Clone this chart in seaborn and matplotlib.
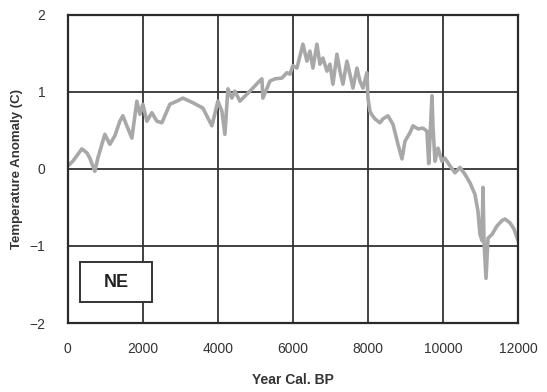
import matplotlib
matplotlib.use('Agg')
import matplotlib.pyplot as plt
from matplotlib.patches import Rectangle
import pandas as pd
import seaborn as sns

# NE bölgesi sıcaklık anomalisi
years = [0, 133, 373, 507, 587, 720, 800, 987, 1120, 1253, 1387, 1467, 1573, 1707,
         1840, 1920, 2000, 2107, 2240, 2373, 2507, 2720, 2907, 3067, 3333, 3600,
         3840, 4000, 4107, 4187, 4267, 4373, 4453, 4587, 4773, 4933, 5067, 5173,
         5200, 5387, 5520, 5707, 5840, 5920, 6000, 6107, 6267, 6373, 6453, 6533,
         6640, 6720, 6800, 6907, 6987, 7067, 7173, 7253, 7333, 7440, 7520, 7600,
         7707, 7787, 7867, 7973, 8000, 8053, 8107, 8187, 8320, 8400, 8533, 8667,
         8800, 8907, 8987, 9120, 9200, 9333, 9467, 9573, 9620, 9707, 9733, 9787,
         9867, 9973, 10053, 10187, 10320, 10453, 10587, 10720, 10853, 10933,
         10987, 11040, 11067, 11093, 11147, 11200, 11307, 11440, 11573, 11653,
         11787, 11893, 12000]
anomaly = [0.04, 0.10, 0.26, 0.21, 0.14, -0.03, 0.14, 0.45, 0.32, 0.43, 0.62, 0.69,
           0.56, 0.40, 0.88, 0.71, 0.84, 0.62, 0.73, 0.62, 0.60, 0.84, 0.88, 0.92,
           0.86, 0.79, 0.56, 0.88, 0.75, 0.45, 1.04, 0.92, 1.01, 0.88, 0.97, 1.05,
           1.12, 1.17, 0.92, 1.14, 1.17, 1.18, 1.25, 1.23, 1.34, 1.31, 1.62, 1.40,
           1.53, 1.31, 1.62, 1.36, 1.44, 1.27, 1.36, 1.10, 1.49, 1.27, 1.10, 1.40,
           1.23, 1.05, 1.31, 1.14, 1.05, 1.25, 0.92, 0.75, 0.70, 0.65, 0.60, 0.65,
           0.69, 0.58, 0.32, 0.13, 0.36, 0.47, 0.56, 0.52, 0.53, 0.49, 0.07, 0.95,
           0.55, 0.10, 0.27, 0.10, 0.14, 0.04, -0.05, 0.02, -0.07, -0.18, -0.33,
           -0.55, -0.85, -0.93, -0.24, -0.94, -1.42, -0.90, -0.85, -0.74, -0.67,
           -0.65, -0.70, -0.78, -0.93]

df = pd.DataFrame({'Year': years, 'Anomaly': anomaly})

sns.set_style('white')
plt.rcParams['font.family'] = ['Liberation Sans', 'DejaVu Sans']

fig = plt.figure(figsize=(5.47, 3.92), dpi=100)
ax = fig.add_axes([0.124, 0.176, 0.823, 0.786])

sns.lineplot(data=df, x='Year', y='Anomaly', ax=ax, color='#a8a8a8', linewidth=2.6)

ax.set_xlim(0, 12000)
ax.set_ylim(-2, 2)
ax.set_xticks([0, 2000, 4000, 6000, 8000, 10000, 12000])
ax.set_yticks([-2, -1, 0, 1, 2])
ax.grid(True, color='#333333', linewidth=1.3)
ax.set_axisbelow(True)
for s in ax.spines.values():
    s.set_color('#2a2a2a')
    s.set_linewidth(1.6)
ax.tick_params(axis='x', length=0, pad=14, labelsize=10, labelcolor='#333333')
ax.tick_params(axis='y', length=0, pad=16, labelsize=10, labelcolor='#333333')
ax.set_xlabel('Year Cal. BP', fontsize=10, fontweight='bold', color='#333333', labelpad=12)
ax.set_ylabel('Temperature Anomaly (C)', fontsize=9.5, fontweight='bold', color='#333333', labelpad=5)

# NE kutusu
ax.add_patch(Rectangle((0.027, 0.068), 0.16, 0.13, transform=ax.transAxes,
                       facecolor='white', edgecolor='#333333', linewidth=1.4, zorder=5))
ax.text(0.107, 0.133, 'NE', transform=ax.transAxes, fontsize=13, fontweight='bold',
        color='#222222', ha='center', va='center', zorder=6)

fig.savefig('out.png', dpi=100)
